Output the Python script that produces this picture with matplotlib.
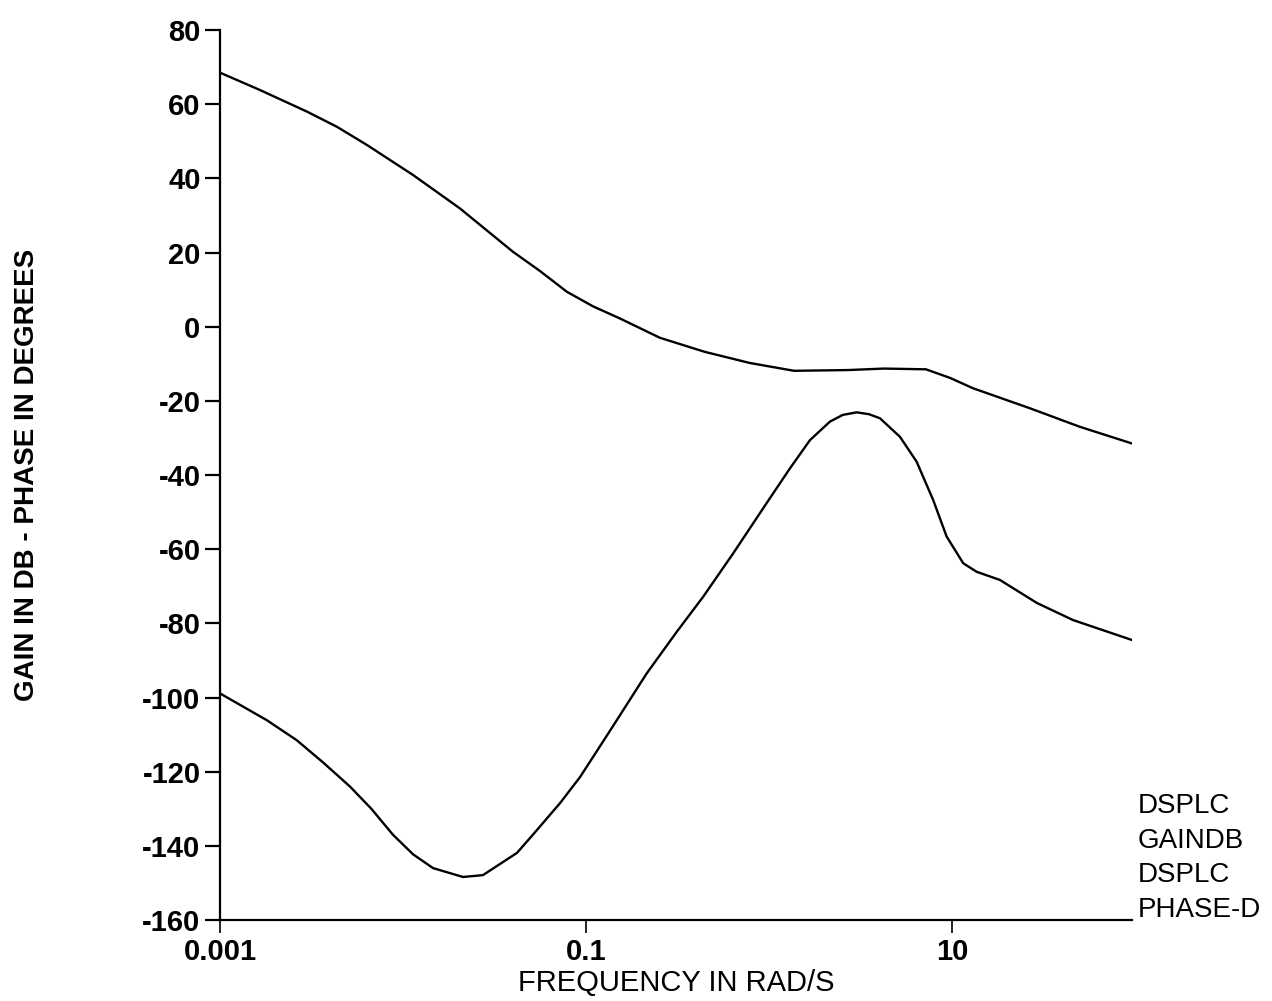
import matplotlib
matplotlib.use("Agg")
import matplotlib.pyplot as plt
from matplotlib.ticker import FixedLocator, FixedFormatter, NullLocator

plt.rcParams["font.family"] = ["Liberation Sans", "DejaVu Sans"]

# gain curve (DSPLC GAINDB)
gain_freq = [0.001, 0.001656, 0.002985, 0.004355, 0.006353, 0.01135, 0.02046,
             0.0399, 0.0561, 0.0787, 0.1091, 0.1535, 0.2536, 0.4467, 0.787,
             1.371, 2.704, 4.246, 7.211, 9.747, 13.03, 26.67, 50.0, 96.4]
gain_db = [68.5, 63.8, 58.0, 53.9, 49.0, 40.9, 31.9,
           20.2, 15.0, 9.4, 5.5, 2.2, -3.0, -6.8, -9.8,
           -11.9, -11.7, -11.3, -11.5, -13.8, -16.6, -22.0, -27.0, -31.5]

# phase curve (DSPLC PHASE-D)
phase_freq = [0.001, 0.001799, 0.002624, 0.003656, 0.005129, 0.006714, 0.00881,
              0.01136, 0.01459, 0.02128, 0.02735, 0.04198, 0.05129, 0.07211,
              0.09268, 0.1352, 0.2148, 0.3133, 0.4375, 0.6383, 0.9705, 1.303,
              1.675, 2.155, 2.53, 3.013, 3.52, 4.042, 5.2, 6.412, 7.907, 9.354,
              11.53, 13.65, 18.29, 29.11, 45.8, 96.4]
phase_deg = [-98.9, -106.1, -111.5, -117.5, -124.0, -130.0, -137.0,
             -142.3, -146.0, -148.4, -147.9, -141.9, -137.0, -128.5,
             -121.5, -109.0, -93.5, -82.3, -72.8, -61.1, -47.6, -38.2,
             -30.6, -25.6, -23.8, -23.1, -23.6, -24.7, -29.7, -36.4, -46.8, -56.6,
             -63.8, -66.1, -68.3, -74.5, -79.1, -84.5]

x_ticks = [0.001, 0.1, 10]
x_tick_labels = ["0.001", "0.1", "10"]
y_ticks = list(range(-160, 81, 20))
legend_lines = ["DSPLC", "GAINDB", "DSPLC", "PHASE-D"]

W, H = 1272, 1001
fig = plt.figure(figsize=(W / 100, H / 100), dpi=100)
ax = fig.add_axes([220 / W, 1 - 920 / H, (1132 - 220) / W, (920 - 30) / H])

ax.plot(gain_freq, gain_db, color="black", linewidth=1.7, solid_joinstyle="round")
ax.plot(phase_freq, phase_deg, color="black", linewidth=1.7, solid_joinstyle="round")

ax.set_xscale("log")
ax.set_xlim(0.001, 96.4)
ax.set_ylim(-160, 80)

ax.spines["top"].set_visible(False)
ax.spines["right"].set_visible(False)
for side in ["left", "bottom"]:
    ax.spines[side].set_linewidth(1.6)

ax.xaxis.set_major_locator(FixedLocator(x_ticks))
ax.xaxis.set_major_formatter(FixedFormatter(x_tick_labels))
ax.xaxis.set_minor_locator(NullLocator())
ax.set_yticks(y_ticks)
ax.set_yticklabels([str(v) for v in y_ticks])

ax.tick_params(axis="y", direction="out", length=11, width=1.6, pad=3,
               labelsize=21)
ax.tick_params(axis="x", direction="out", length=9, width=1.2, pad=4,
               labelsize=21)
for lbl in ax.get_yticklabels() + ax.get_xticklabels():
    lbl.set_fontweight("bold")

ax.set_xlabel("FREQUENCY IN RAD/S", fontsize=21)
ax.xaxis.set_label_coords(0.5, -0.0708)
ax.xaxis.label.set_va("center")

ax.set_ylabel("GAIN IN DB - PHASE IN DEGREES", fontsize=20, fontweight="bold")
ax.yaxis.set_label_coords(-0.2116, 0.5)
ax.yaxis.label.set_va("center")

for i, txt in enumerate(legend_lines):
    fig.text(1138 / W, 1 - (806 + 34.7 * i) / H, txt, fontsize=20,
             ha="left", va="center")

fig.savefig("out.png", dpi=100)
